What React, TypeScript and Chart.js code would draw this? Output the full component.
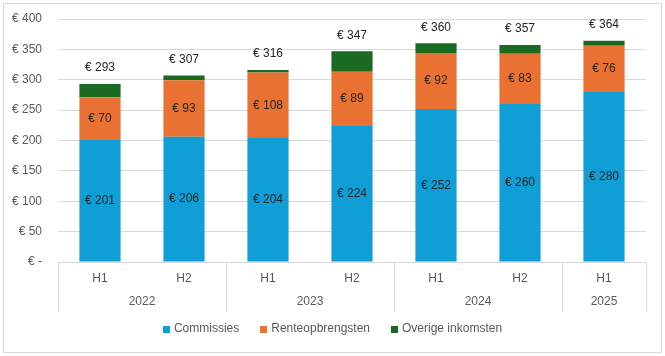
import React, { useEffect, useRef } from "react";
import { Chart, registerables } from "chart.js";

Chart.register(...registerables);

const categories = ["H1", "H2", "H1", "H2", "H1", "H2", "H1"];
const years = ["2022", "2023", "2024", "2025"];
const yearSpans = [2, 2, 2, 1];
const commissies = [201, 206, 204, 224, 252, 260, 280];
const renteopbrengsten = [70, 93, 108, 89, 92, 83, 76];
const overige = [22, 8, 4, 34, 16, 14, 8];
const totals = [293, 307, 316, 347, 360, 357, 364];
const seriesNames = ["Commissies", "Renteopbrengsten", "Overige inkomsten"];
const seriesColors = ["#0F9ED5", "#E97132", "#196B24"];

const FONT = "'Liberation Sans', Arial, sans-serif";
const GRID = "#d9d9d9";
const TEXT = "#595959";
const LABEL = "#262626";

const euro = (v: number) => (v === 0 ? "€ -" : "€ " + v);

const overlay = {
  id: "overlay",
  beforeDraw(chart: any) {
    const ctx = chart.ctx;
    ctx.save();
    ctx.fillStyle = "#ffffff";
    ctx.fillRect(0, 0, chart.width, chart.height);
    ctx.strokeStyle = GRID;
    ctx.lineWidth = 1;
    ctx.strokeRect(3.5, 3.5, chart.width - 7, chart.height - 7);
    ctx.restore();
  },
  afterDatasetsDraw(chart: any) {
    const ctx = chart.ctx;
    ctx.save();
    ctx.font = "12px " + FONT;
    ctx.textAlign = "center";
    ctx.textBaseline = "middle";
    ctx.fillStyle = LABEL;
    [0, 1].forEach((di) => {
      const meta = chart.getDatasetMeta(di);
      const data = chart.data.datasets[di].data as number[];
      meta.data.forEach((el: any, i: number) => {
        ctx.fillText(euro(data[i]), el.x, (el.y + el.base) / 2);
      });
    });
    const top = chart.getDatasetMeta(2);
    top.data.forEach((el: any, i: number) => {
      ctx.fillText(euro(totals[i]), el.x, el.y - 16);
    });
    ctx.restore();
  },
  afterDraw(chart: any) {
    const ctx = chart.ctx;
    const x = chart.scales.x;
    const step = (x.right - x.left) / categories.length;
    ctx.save();
    ctx.strokeStyle = GRID;
    ctx.lineWidth = 1;
    let idx = 0;
    const bounds = [0];
    yearSpans.forEach((s) => {
      idx += s;
      bounds.push(idx);
    });
    bounds.forEach((b) => {
      const px = Math.round(x.left + b * step) + 0.5;
      ctx.beginPath();
      ctx.moveTo(px, x.top);
      ctx.lineTo(px, x.top + 50);
      ctx.stroke();
    });
    ctx.font = "12px " + FONT;
    ctx.fillStyle = TEXT;
    ctx.textAlign = "center";
    ctx.textBaseline = "middle";
    years.forEach((yr, i) => {
      const cx = x.left + ((bounds[i] + bounds[i + 1]) / 2) * step;
      ctx.fillText(yr, cx, x.top + 40);
    });

    // legend
    const box = 7;
    const gapText = 4;
    const gapItem = 21;
    const widths = seriesNames.map((n) => ctx.measureText(n).width);
    const total =
      widths.reduce((a, w) => a + box + gapText + w, 0) + gapItem * (seriesNames.length - 1);
    let lx = chart.width / 2 - total / 2;
    const ly = x.top + 67;
    ctx.textAlign = "left";
    seriesNames.forEach((n, i) => {
      ctx.fillStyle = seriesColors[i];
      ctx.fillRect(Math.round(lx), Math.round(ly - box / 2), box, box);
      ctx.fillStyle = TEXT;
      ctx.fillText(n, lx + box + gapText, ly);
      lx += box + gapText + widths[i] + gapItem;
    });
    ctx.restore();
  },
};

export default function App() {
  const ref = useRef<HTMLCanvasElement | null>(null);
  useEffect(() => {
    document.body.style.margin = "0";
    const chart = new Chart(ref.current as HTMLCanvasElement, {
      type: "bar",
      data: {
        labels: categories,
        datasets: seriesNames.map((name, i) => ({
          label: name,
          data: [commissies, renteopbrengsten, overige][i],
          backgroundColor: seriesColors[i],
        })),
      },
      options: {
        responsive: false,
        animation: false,
        devicePixelRatio: 1,
        layout: { padding: { top: 19, right: 19, left: 0, bottom: 41 } },
        datasets: { bar: { barPercentage: 0.49, categoryPercentage: 1 } },
        scales: {
          x: {
            stacked: true,
            grid: { display: false, drawTicks: false },
            border: { display: true, color: GRID },
            ticks: { color: TEXT, font: { size: 12, family: FONT }, padding: 9 },
            afterFit: (s: any) => {
              s.height = 53;
              s.paddingLeft = 0;
              s.paddingRight = 0;
            },
          },
          y: {
            stacked: true,
            min: 0,
            max: 400,
            grid: { color: GRID, drawTicks: false },
            border: { display: false },
            ticks: {
              stepSize: 50,
              color: TEXT,
              font: { size: 12, family: FONT },
              padding: 16,
              callback: (v: any) => euro(Number(v)),
            },
            afterFit: (s: any) => {
              s.width = 58;
              s.paddingTop = 0;
              s.paddingBottom = 0;
            },
          },
        },
        plugins: {
          legend: { display: false },
          tooltip: { enabled: false },
        },
      } as any,
      plugins: [overlay],
    });
    return () => chart.destroy();
  }, []);
  return <canvas ref={ref} width={665} height={356} style={{ display: "block" }} />;
}
